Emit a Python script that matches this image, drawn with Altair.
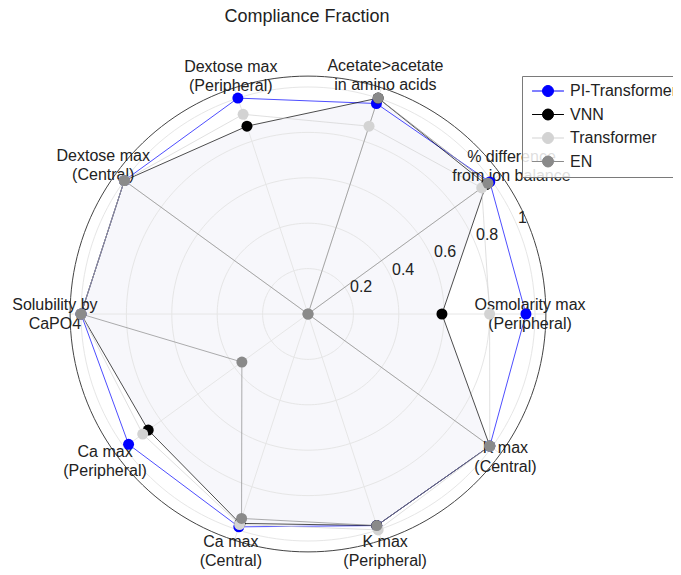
import altair as alt
import pandas as pd
import numpy as np

# ---------------- data ----------------
categories = [
    "Osmolarity max (Peripheral)",
    "% difference from ion balance",
    "Acetate>acetate in amino acids",
    "Dextose max (Peripheral)",
    "Dextose max (Central)",
    "Solubility by CaPO4",
    "Ca max (Peripheral)",
    "Ca max (Central)",
    "K max (Peripheral)",
    "K max (Central)",
]
category_text = [
    "Osmolarity max\n(Peripheral)",
    "% difference\nfrom ion balance",
    "Acetate>acetate\nin amino acids",
    "Dextose max\n(Peripheral)",
    "Dextose max\n(Central)",
    "Solubility by\nCaPO4",
    "Ca max\n(Peripheral)",
    "Ca max\n(Central)",
    "K max\n(Peripheral)",
    "K max\n(Central)",
]
series_names = ["PI-Transformer", "VNN", "Transformer", "EN"]
pi_transformer = [0.96, 0.99, 0.975, 1.0, 1.0, 1.0, 0.977, 0.986, 0.98, 0.99]
vnn = [0.59, 0.97, 1.0, 0.87, 1.0, 1.0, 0.87, 0.97, 0.98, 0.99]
transformer = [0.80, 0.946, 0.87, 0.925, 1.0, 1.0, 0.90, 0.975, 1.0, 0.99]
en = [0.0, 0.98, 1.0, 0.0, 1.0, 1.0, 0.36, 0.947, 0.98, 0.99]
tick_values = [0.2, 0.4, 0.6, 0.8, 1.0]
tick_labels = ["0.2", "0.4", "0.6", "0.8", "1"]
title_text = "Compliance Fraction"

# ---------------- layout / style ----------------
PX = 227.0             # pixels per radial unit
CX, CY = 300.0, 281.0  # centre of polar area inside the plot
W, H = 665, 560
R_OUT = 1.048          # radial range maximum
STEP = 360.0 / len(categories)
TICK_ANGLE = 22.3
label_radius = [0.978, 1.108, 1.104, 1.10, 1.115, 1.115, 1.105, 1.10, 1.10, 1.075]
marker_colors = ["#0000ff", "#000000", "#d3d3d3", "#8a8a8a"]
FONT = "Liberation Sans"

xs = alt.Scale(domain=[-CX / PX, (W - CX) / PX], nice=False, zero=False)
ys = alt.Scale(domain=[-(H - CY) / PX, CY / PX], nice=False, zero=False)
X = lambda f: alt.X(f, type="quantitative", scale=xs, axis=None)
Y = lambda f: alt.Y(f, type="quantitative", scale=ys, axis=None)

# traces (closed polygons)
all_series = [pi_transformer, vnn, transformer, en]
rows = []
for s, vals in zip(series_names, all_series):
    for i in range(len(categories) + 1):
        k = i % len(categories)
        rows.append({"series": s, "idx": i, "cat": categories[k], "value": vals[k]})
traces = pd.DataFrame(rows)
pts = traces[traces["idx"] < len(categories)]

polar = "datum.idx * %f * PI / 180" % STEP

base_tr = alt.Chart(traces).transform_calculate(
    x="datum.value * cos(%s)" % polar, y="datum.value * sin(%s)" % polar
)

fill = base_tr.transform_filter(alt.datum.series == "VNN").mark_line(
    fill="#f7f7fb", strokeOpacity=0, interpolate="linear"
).encode(x=X("x:Q"), y=Y("y:Q"), order="idx:Q")

# grid circles
grid_rows = []
for r in tick_values:
    for a in range(0, 361, 2):
        grid_rows.append({"r": r, "a": a})
grid = pd.DataFrame(grid_rows)
grid_chart = alt.Chart(grid).transform_calculate(
    x="datum.r * cos(datum.a * PI / 180)", y="datum.r * sin(datum.a * PI / 180)"
).mark_line(color="#e6e6e6", strokeWidth=1).encode(
    x=X("x:Q"), y=Y("y:Q"), detail="r:N", order="a:Q"
)

outer = pd.DataFrame({"a": list(range(0, 361, 2))})
outer_chart = alt.Chart(outer).transform_calculate(
    x="%f * cos(datum.a * PI / 180)" % R_OUT, y="%f * sin(datum.a * PI / 180)" % R_OUT
).mark_line(color="#444444", strokeWidth=1).encode(x=X("x:Q"), y=Y("y:Q"), order="a:Q")

rays = pd.DataFrame({"idx": list(range(len(categories)))})
rays_chart = alt.Chart(rays).transform_calculate(
    x0="0", y0="0",
    x1="%f * cos(%s)" % (R_OUT, polar), y1="%f * sin(%s)" % (R_OUT, polar)
).mark_rule(color="#e6e6e6", strokeWidth=1).encode(
    x=X("x0:Q"), y=Y("y0:Q"), x2="x1:Q", y2="y1:Q"
)

color_scale = alt.Scale(domain=series_names, range=marker_colors)

legend = alt.Legend(
    orient="none", legendX=514, legendY=43, title=None,
    symbolType="M-2.9,0L2.9,0M1,0A1,1,0,1,1,-1,0A1,1,0,1,1,1,0Z",
    symbolSize=121, symbolStrokeWidth=1,
    labelFont=FONT, labelFontSize=16, labelColor="#222",
    fillColor="rgba(255,255,255,0.85)", strokeColor="#7a7a7a",
    padding=7, rowPadding=7.5, labelOffset=14, symbolOffset=11,
)

lines = base_tr.mark_line(strokeWidth=0.7, interpolate="linear").encode(
    x=X("x:Q"), y=Y("y:Q"),
    color=alt.Color("series:N", scale=color_scale, legend=legend, sort=series_names),
    detail="series:N", order="idx:Q",
)

points = alt.Chart(pts).transform_calculate(
    x="datum.value * cos(%s)" % polar, y="datum.value * sin(%s)" % polar
).mark_point(filled=True, shape="circle", size=121, opacity=1, strokeWidth=0.5).encode(
    x=X("x:Q"), y=Y("y:Q"),
    color=alt.Color("series:N", scale=color_scale, legend=legend, sort=series_names),
)

labels = pd.DataFrame({
    "idx": list(range(len(categories))),
    "text": category_text,
    "lr": label_radius,
})
label_chart = alt.Chart(labels).transform_calculate(
    x="datum.lr * cos(%s)" % polar, y="datum.lr * sin(%s)" % polar
).mark_text(
    font=FONT, fontSize=16, color="#222", lineBreak="\n", lineHeight=19,
    align="center", baseline="middle", dy=-9.5
).encode(x=X("x:Q"), y=Y("y:Q"), text="text:N")

ticks = pd.DataFrame({"v": tick_values, "t": tick_labels})
tick_chart = alt.Chart(ticks).transform_calculate(
    x="datum.v * cos(%f * PI / 180)" % TICK_ANGLE,
    y="datum.v * sin(%f * PI / 180)" % TICK_ANGLE,
).mark_text(
    font=FONT, fontSize=16, color="#222", align="left", baseline="middle", dy=-10
).encode(x=X("x:Q"), y=Y("y:Q"), text="t:N")

title_chart = alt.Chart(pd.DataFrame({"t": [title_text]})).mark_text(
    font=FONT, fontSize=18, color="#222", align="center", baseline="middle"
).encode(x=alt.value(299), y=alt.value(-16), text="t:N")

chart = alt.layer(
    fill, grid_chart, rays_chart, outer_chart, lines, label_chart, tick_chart, points,
    title_chart
).properties(
    width=W, height=H,
    autosize=alt.AutoSizeParams(type="none"),
    padding={"left": 0, "top": 25, "right": 0, "bottom": 0},
).configure_view(stroke=None)

chart.save("out.html", embed_options={"renderer": "svg", "actions": False})
